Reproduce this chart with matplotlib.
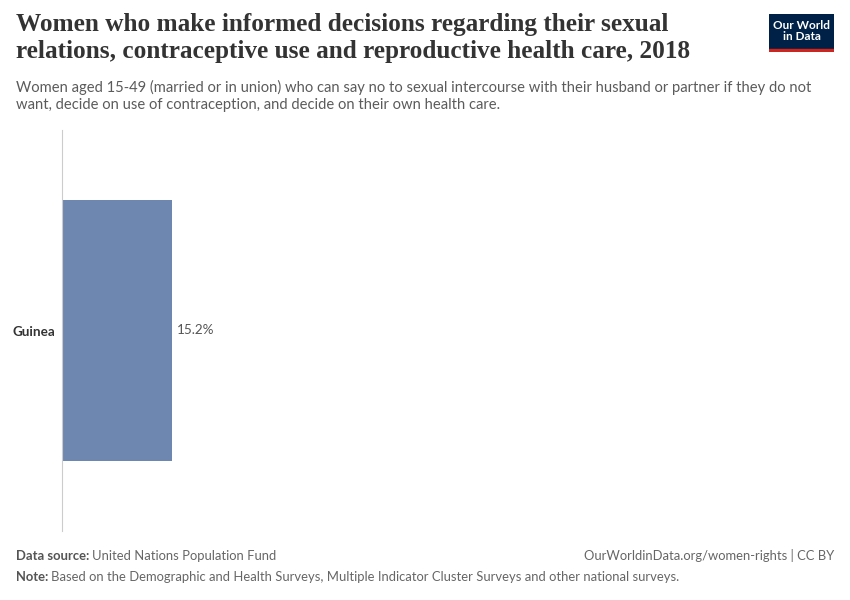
import matplotlib.pyplot as plt
from matplotlib.patches import Rectangle

countries = ["Guinea"]
values = [15.2]

title = ("Women who make informed decisions regarding their sexual\n"
         "relations, contraceptive use and reproductive health care, 2018")
subtitle = ("Women aged 15-49 (married or in union) who can say no to sexual intercourse with their husband or partner if they do not\n"
            "want, decide on use of contraception, and decide on their own health care.")

plt.rcParams['font.family'] = ['Lato', 'DejaVu Sans']

W, H = 850, 600
fig = plt.figure(figsize=(8.5, 6), dpi=100)

# plot area in pixels: x 62..835, y 130..530
left, right, top, bottom = 62, 835, 130, 531
ax = fig.add_axes([left / W, 1 - bottom / H, (right - left) / W, (bottom - top) / H])
bar_px = 110  # bar length for 15.2
xmax = values[0] * (right - left) / bar_px
ax.barh(range(len(countries)), values, height=0.65, color="#6e87b0")
ax.set_xlim(0, xmax)
ax.set_ylim(-0.5, 0.5)
ax.invert_yaxis()
for i, v in enumerate(values):
    ax.text(v + xmax * 0.006, i, f"{v}%", va="center", ha="left", fontsize=9.7, color="#555555")
ax.set_yticks(range(len(countries)))
ax.set_yticklabels(countries, fontsize=9.7, color="#333333", fontweight="bold")
ax.tick_params(axis="y", length=0, pad=5)
ax.set_xticks([])
for s in ["top", "right", "bottom"]:
    ax.spines[s].set_visible(False)
ax.spines["left"].set_color("#cccccc")
ax.spines["left"].set_linewidth(0.8)

fig.text(16 / W, 1 - 13 / H, title, fontsize=18.2, va="top", ha="left",
         family=["Liberation Serif"], fontweight="bold", color="#333333", linespacing=1.2)
fig.text(16 / W, 1 - 80 / H, subtitle, fontsize=10.6, va="top", ha="left",
         color="#5b5b5b", linespacing=1.3)

# logo
logo = fig.add_axes([769 / W, 1 - 52 / H, 65 / W, 38 / H])
logo.set_xlim(0, 1); logo.set_ylim(0, 1); logo.axis("off")
logo.add_patch(Rectangle((0, 0.08), 1, 0.92, color="#002147"))
logo.add_patch(Rectangle((0, 0), 1, 0.08, color="#ce261e"))
logo.text(0.5, 0.55, "Our World\nin Data", color="white", ha="center", va="center",
          fontsize=8.5, fontweight="bold", linespacing=1.05)

fig.text(16 / W, 1 - 556 / H, "Data source:", fontsize=9.4, va="center", ha="left",
         color="#555555", fontweight="bold")
fig.text(92 / W, 1 - 556 / H, "United Nations Population Fund", fontsize=9.4, va="center",
         ha="left", color="#666666")
fig.text(834 / W, 1 - 556 / H, "OurWorldinData.org/women-rights | CC BY", fontsize=9.4,
         va="center", ha="right", color="#666666")
fig.text(16 / W, 1 - 577 / H, "Note:", fontsize=9.4, va="center", ha="left",
         color="#555555", fontweight="bold")
fig.text(51 / W, 1 - 577 / H,
         "Based on the Demographic and Health Surveys, Multiple Indicator Cluster Surveys and other national surveys.",
         fontsize=9.4, va="center", ha="left", color="#666666")

fig.savefig("out.png", dpi=100, facecolor="white")
